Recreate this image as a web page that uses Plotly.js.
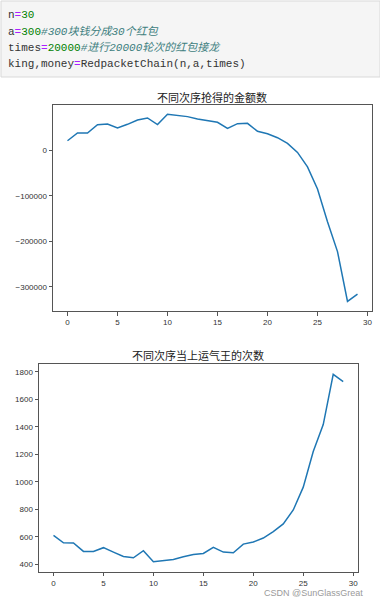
<!DOCTYPE html>
<html><head><meta charset="utf-8">
<script src="https://cdn.plot.ly/plotly-3.0.1.min.js"></script>
<style>html,body{margin:0;padding:0;background:#fff;}#chart{width:380px;height:600px;}</style>
</head><body><div id="chart"></div>
<script>
// order index 0..29
const order = [0,1,2,3,4,5,6,7,8,9,10,11,12,13,14,15,16,17,18,19,20,21,22,23,24,25,26,27,28,29];
// 不同次序抢得的金额数 (money)
const money = [20600,37500,37500,55900,57400,48500,56600,66200,70600,55900,
               78700,76500,73500,68400,64700,61000,47800,58100,58800,41200,
               36000,27200,14700,-5100,-36800,-85300,-157000,-222600,-332000,-316000];
// 不同次序当上运气王的次数 (king)
const king = [610,556,554,493,493,520,488,456,446,498,
              417,427,434,454,471,478,522,488,483,546,
              561,590,637,693,795,961,1220,1417,1783,1730];
const title1 = '不同次序抢得的金额数';
const title2 = '不同次序当上运气王的次数';
const codeLines = [
  'n<span style="color:#aa22ff">=</span><span style="color:#008000">30</span>',
  'a<span style="color:#aa22ff">=</span><span style="color:#008000">300</span><i><span style="color:#408080">#300块钱分成30个红包</span></i>',
  'times<span style="color:#aa22ff">=</span><span style="color:#008000">20000</span><i><span style="color:#408080">#进行20000轮次的红包接龙</span></i>',
  'king,money<span style="color:#aa22ff">=</span>RedpacketChain(n,a,times)'
];
const watermark = 'CSDN @SunGlassGreat';

const W = 380, H = 600;
const px = v => v / W;
const py = v => 1 - v / H;
const lineColor = '#1f77b4';
const tickFont = {family: 'Liberation Sans, Arial, sans-serif', size: 8, color: '#333'};

const axisBase = {
  showgrid: false, zeroline: false, showline: true, mirror: true,
  linecolor: '#555', linewidth: 1, ticks: 'outside', ticklen: 3.5, tickwidth: 1,
  tickcolor: '#555', tickfont: tickFont, fixedrange: true
};

const traces = [
  {x: order, y: money, type: 'scatter', mode: 'lines', xaxis: 'x', yaxis: 'y',
   line: {color: lineColor, width: 1.5}, hoverinfo: 'skip'},
  {x: order, y: king, type: 'scatter', mode: 'lines', xaxis: 'x2', yaxis: 'y2',
   line: {color: lineColor, width: 1.5}, hoverinfo: 'skip'}
];

const annotations = codeLines.map((t, i) => ({
  xref: 'paper', yref: 'paper', x: px(6), y: py(15 + i * 16.3),
  xanchor: 'left', yanchor: 'middle', showarrow: false, text: t, align: 'left',
  font: {family: 'Liberation Mono, DejaVu Sans Mono, Noto Sans CJK SC, monospace', size: 11, color: '#333'}
}));
annotations.push(
  {xref: 'paper', yref: 'paper', x: px(212), y: py(97), xanchor: 'center', yanchor: 'middle',
   showarrow: false, text: title1, font: {family: 'Noto Sans CJK SC, sans-serif', size: 11, color: '#222'}},
  {xref: 'paper', yref: 'paper', x: px(198), y: py(355), xanchor: 'center', yanchor: 'middle',
   showarrow: false, text: title2, font: {family: 'Noto Sans CJK SC, sans-serif', size: 11, color: '#222'}},
  {xref: 'paper', yref: 'paper', x: px(365), y: py(593), xanchor: 'right', yanchor: 'middle',
   showarrow: false, text: watermark, font: {family: 'Liberation Sans, Arial, sans-serif', size: 9, color: '#9a9a9a'}}
);

const layout = {
  width: W, height: H, margin: {l: 0, r: 0, t: 0, b: 0},
  paper_bgcolor: '#fff', plot_bgcolor: '#fff', showlegend: false,
  xaxis: Object.assign({}, axisBase, {domain: [px(53), px(372)], range: [-1.45, 30.45], dtick: 5, tick0: 0, anchor: 'y'}),
  yaxis: Object.assign({}, axisBase, {domain: [py(311), py(105)], range: [-353000, 99000], dtick: 100000, tick0: 0, tickformat: 'd', anchor: 'x'}),
  xaxis2: Object.assign({}, axisBase, {domain: [px(39), px(357.7)], range: [-1.45, 30.45], dtick: 5, tick0: 0, anchor: 'y2'}),
  yaxis2: Object.assign({}, axisBase, {domain: [py(571.7), py(364.3)], range: [345, 1856], dtick: 200, tick0: 0, tickformat: 'd', anchor: 'x2'}),
  shapes: [
    {type: 'rect', xref: 'paper', yref: 'paper', x0: px(1), x1: px(380), y0: py(77), y1: py(1),
     fillcolor: '#f5f5f5', line: {color: '#d9d9d9', width: 1}, layer: 'below'}
  ],
  annotations: annotations
};

Plotly.newPlot('chart', traces, layout, {staticPlot: true, displayModeBar: false});
</script></body></html>
